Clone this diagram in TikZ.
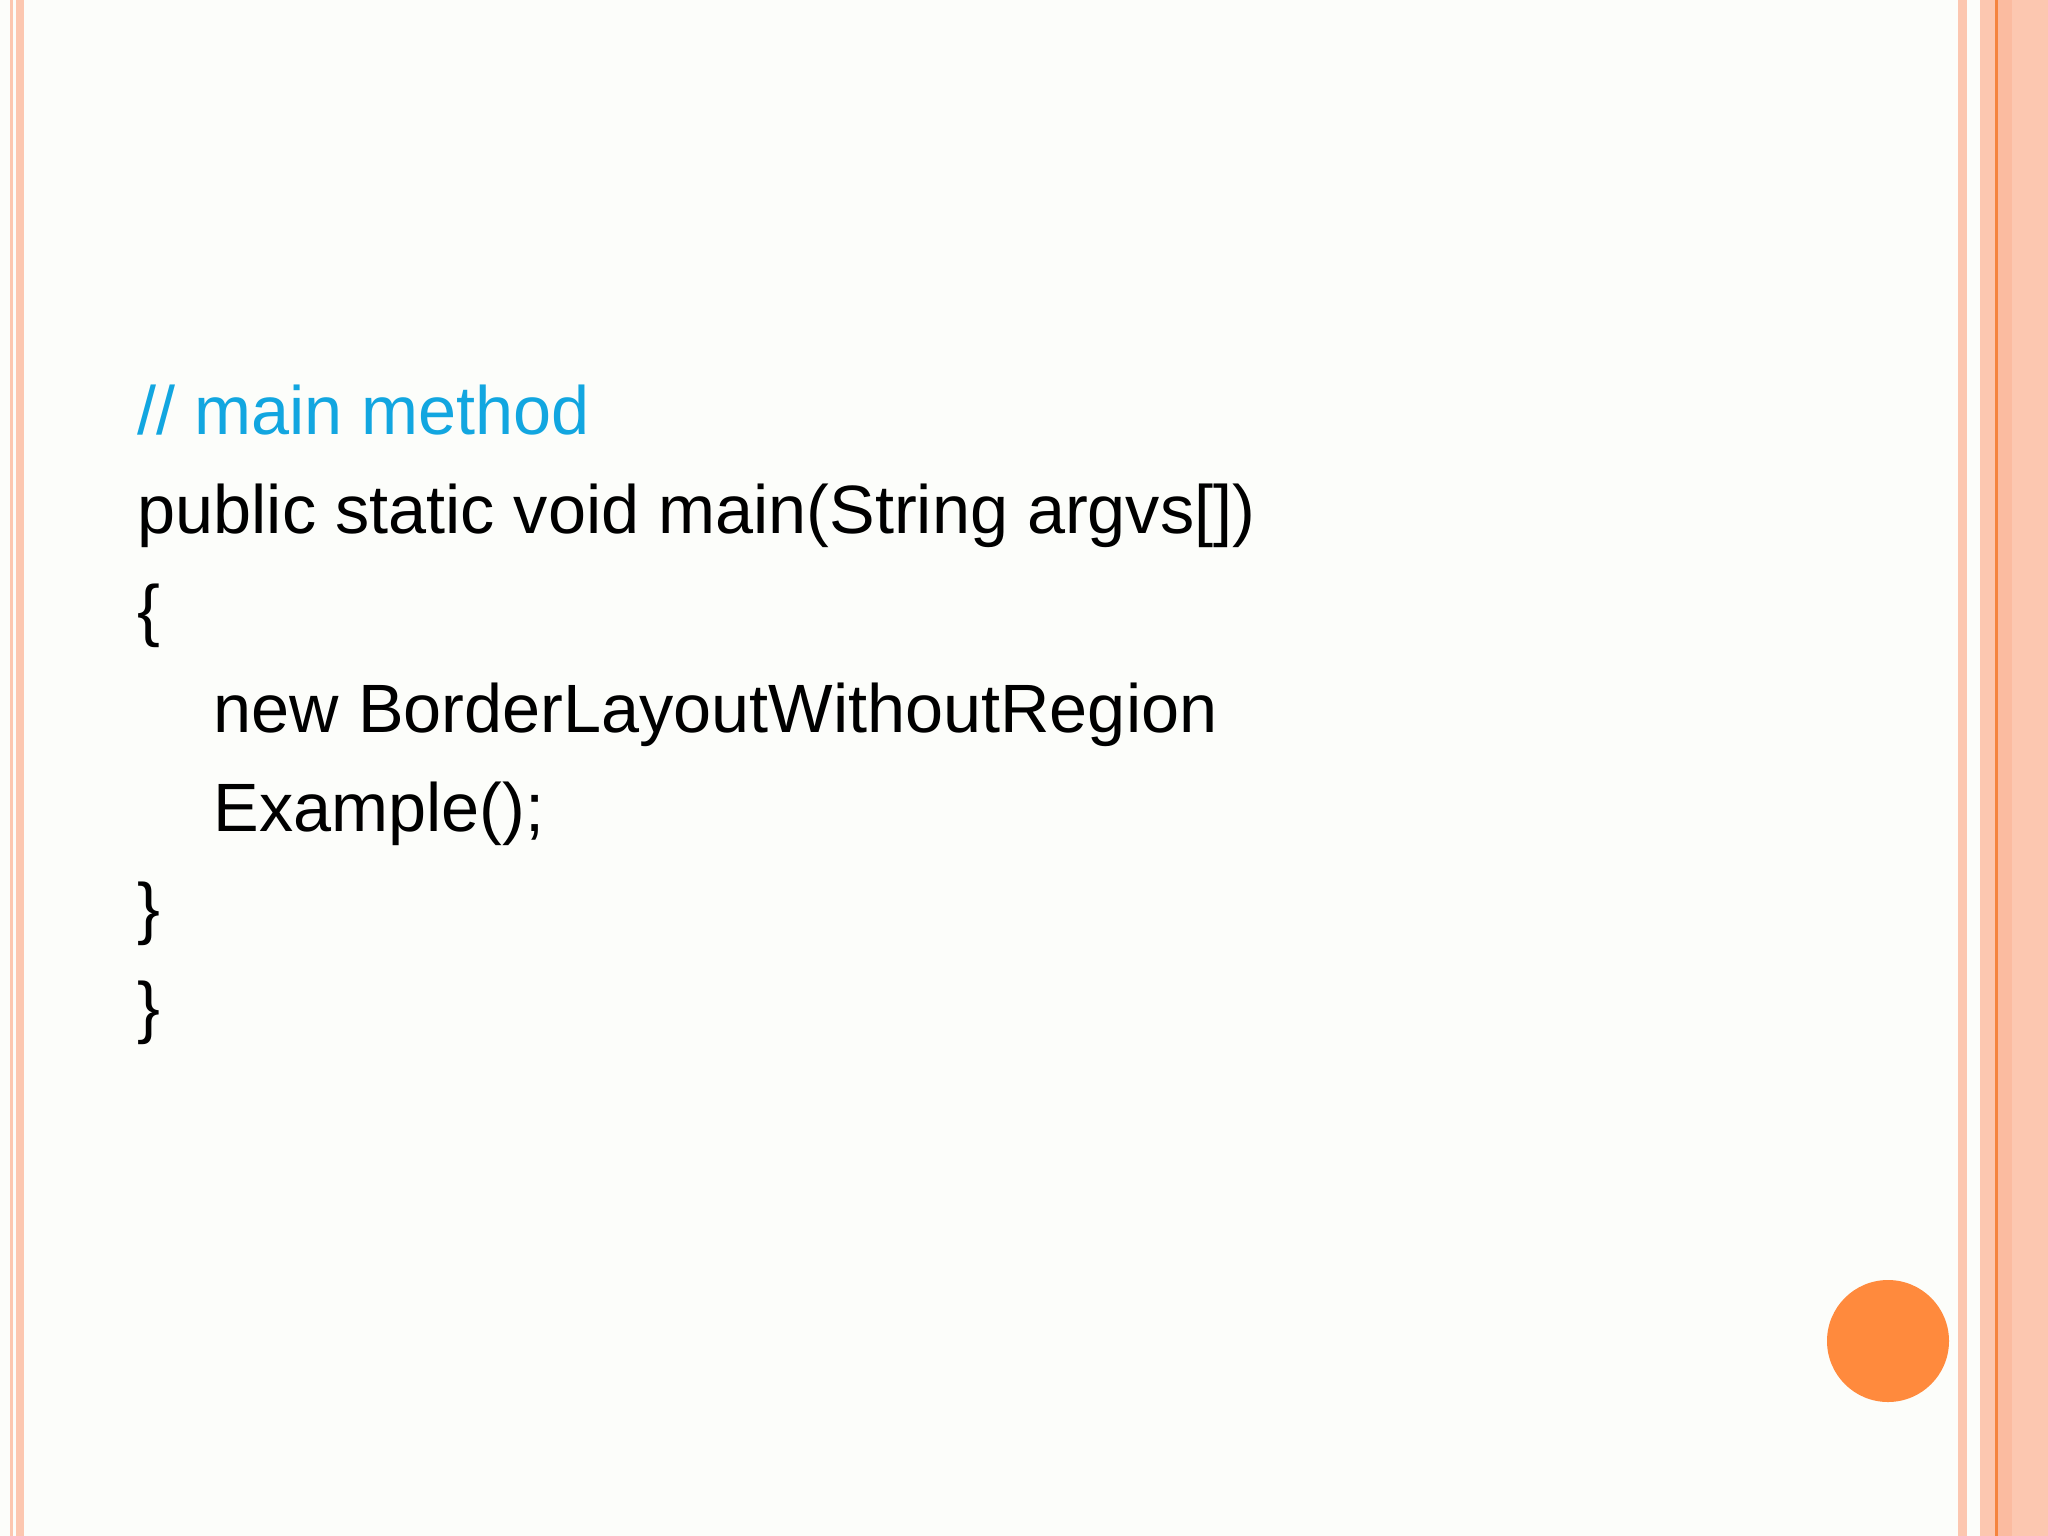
\documentclass[tikz,border=0pt]{standalone}
\usepackage{fontspec}
\setmainfont{Liberation Sans}
\definecolor{bgc}{HTML}{FCFDFA}
\definecolor{strp}{HTML}{FCC7B0}
\definecolor{strd}{HTML}{FBBBA0}
\definecolor{oline}{HTML}{F5843F}
\definecolor{circ}{HTML}{FF8A3D}
\definecolor{cmt}{HTML}{12A6E0}
\begin{document}
\begin{tikzpicture}[x=0.01cm,y=-0.01cm,
  code/.style={anchor=base west,inner sep=0pt,font=\fontsize{19.45}{21}\selectfont}]
\useasboundingbox (0,0) rectangle (2048,1536);
\fill[bgc] (0,0) rectangle (2048,1536);
% left stripes
\fill[strp] (10,0) rectangle (13,1536);
\fill[strp] (16,0) rectangle (24,1536);
% right stripes
\fill[strp] (1958,0) rectangle (1967,1536);
\fill[strp] (1980,0) rectangle (2048,1536);
\fill[strd] (1996,0) rectangle (2012,1536);
\fill[oline] (1995,0) rectangle (1997.5,1536);
\fill[circ] (1888,1341) circle (61);
\node[code,text=cmt] (l1) at (137,434) {// main method};
\node[code] (l2) at (137,533) {public static void main(String argvs[])};
\node[code] (l3) at (137,633) {\{};
\node[code] (l4) at (213,732) {new BorderLayoutWithoutRegion};
\node[code] (l5) at (213,831) {Example();};
\node[code] (l6) at (137,931) {\}};
\node[code] (l7) at (137,1030) {\}};
\end{tikzpicture}
\end{document}
